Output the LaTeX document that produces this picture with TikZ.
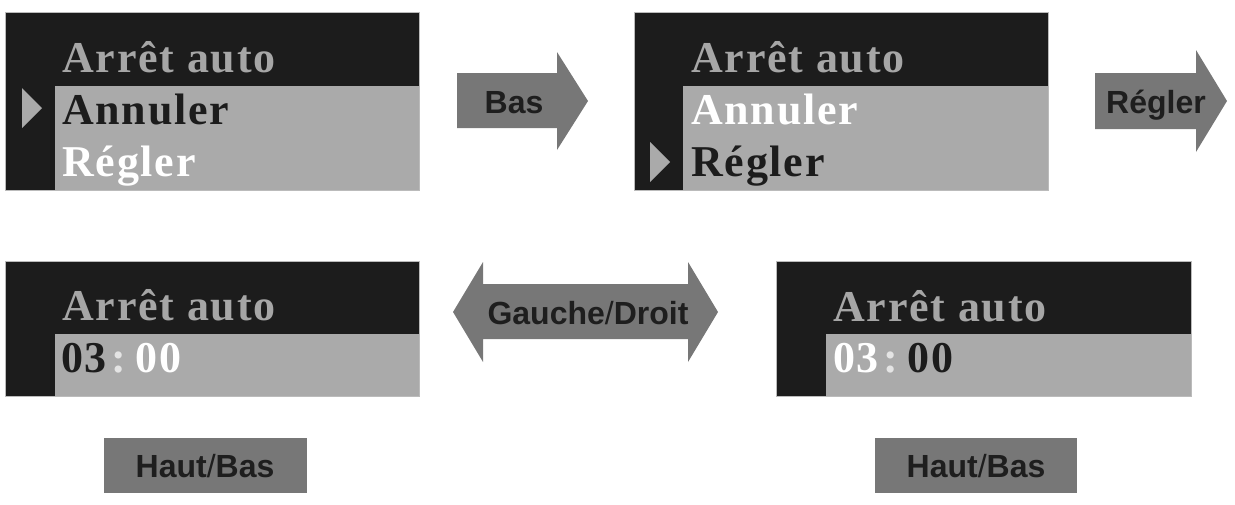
\documentclass[tikz,border=0pt]{standalone}
\usepackage{fontspec}
\newfontfamily\lcdfont[LetterSpace=4]{Liberation Serif}
\newfontfamily\keyfont{Liberation Sans}
\definecolor{lcddark}{HTML}{1C1C1C}
\definecolor{lcdgray}{HTML}{AAAAAA}
\definecolor{lcdtitle}{HTML}{A6A6A6}
\definecolor{lcdcolon}{HTML}{E4E4E4}
\definecolor{keygray}{HTML}{777777}
\definecolor{keytext}{HTML}{1E1E1E}

\begin{document}
\begin{tikzpicture}[x=1pt, y=-1pt,
  screen/.style={fill=lcddark, draw=lcdgray!80, line width=0.6pt},
  row/.style={fill=lcdgray},
  marker/.style={fill=lcdgray},
  lcd/.style={anchor=base west, inner sep=0pt, font=\lcdfont\bfseries\fontsize{44}{44}\selectfont},
  key/.style={fill=keygray},
  keylabel/.style={anchor=base, inner sep=0pt, text=keytext, font=\keyfont\bfseries\fontsize{32}{32}\selectfont}]
  \useasboundingbox (0,0) rectangle (1235,504);

  % Screen 1: cursor on Annuler
  \path[screen] (5,12) rectangle (419,190);
  \path[row] (55,86) rectangle (419,190);
  \node[lcd, text=lcdtitle] (title1) at (62,72) {Arrêt auto};
  \node[lcd, text=lcddark] (cancel1) at (62,124) {Annuler};
  \node[lcd, text=white] (set1) at (62,176) {Régler};
  \fill[marker] (22,88) -- (22,128) -- (42,108) -- cycle;

  % Key Bas
  \path[key] (457,73) -- (557,73) -- (557,52) -- (588,101) -- (557,150)
    -- (557,128) -- (457,128) -- cycle;
  \node[keylabel] (down) at (514,113) {Bas};

  % Screen 2: cursor on Regler
  \path[screen] (634,12) rectangle (1048,190);
  \path[row] (683,86) rectangle (1048,190);
  \node[lcd, text=lcdtitle] (title2) at (691,72) {Arrêt auto};
  \node[lcd, text=white] (cancel2) at (691,124) {Annuler};
  \node[lcd, text=lcddark] (set2) at (691,176) {Régler};
  \fill[marker] (650,142) -- (650,182) -- (670,162) -- cycle;

  % Key Regler
  \path[key] (1095,73) -- (1196,73) -- (1196,50) -- (1227,101) -- (1196,152)
    -- (1196,129) -- (1095,129) -- cycle;
  \node[keylabel] (set) at (1156,113) {Régler};

  % Screen 3: hours selected
  \path[screen] (5,261) rectangle (419,396);
  \path[row] (55,334) rectangle (419,396);
  \node[lcd, text=lcdtitle] (title3) at (62,320) {Arrêt auto};
  \node[lcd, text=lcddark] (time3) at (61,372)
    {03\hspace{5pt}{\color{lcdcolon}:}\hspace{9pt}{\color{white}00}};

  % Key Gauche/Droit
  \path[key] (453,312) -- (483,262) -- (483,284) -- (688,284) -- (688,262)
    -- (718,312) -- (688,362) -- (688,339) -- (483,339) -- (483,362) -- cycle;
  \node[keylabel] (leftright) at (588,324) {Gauche{\mdseries/}Droit};

  % Screen 4: minutes selected
  \path[screen] (776,261) rectangle (1191,396);
  \path[row] (826,334) rectangle (1191,396);
  \node[lcd, text=lcdtitle] (title4) at (833,321) {Arrêt auto};
  \node[lcd, text=white] (time4) at (833,372)
    {03\hspace{5pt}{\color{lcdcolon}:}\hspace{9pt}{\color{lcddark}00}};

  % Keys Haut/Bas
  \path[key] (104,438) rectangle (307,493);
  \node[keylabel] (updown1) at (205,477) {Haut{\mdseries/}Bas};
  \path[key] (875,438) rectangle (1077,493);
  \node[keylabel] (updown2) at (976,477) {Haut{\mdseries/}Bas};
\end{tikzpicture}
\end{document}
